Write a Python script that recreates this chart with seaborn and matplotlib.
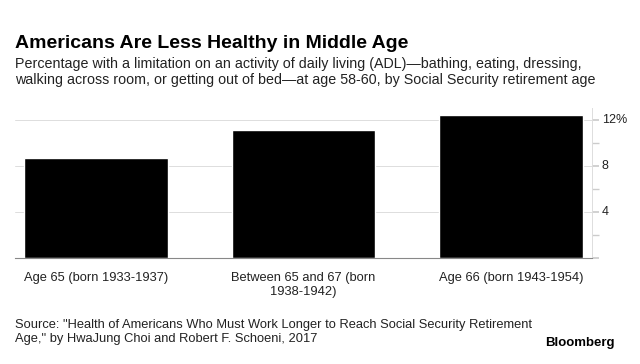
import matplotlib
matplotlib.use("Agg")
import matplotlib.pyplot as plt
import pandas as pd
import seaborn as sns

# Chart data
categories = ["Age 65 (born 1933-1937)",
              "Between 65 and 67 (born\n1938-1942)",
              "Age 66 (born 1943-1954)"]
adl_pct = [8.7, 11.1, 12.4]
y_ticks = [0, 4, 8, 12]
y_tick_labels = ["", "4", "8", "12%"]

sns.set_theme(style="white")
plt.rcParams["font.family"] = ["Liberation Sans", "DejaVu Sans"]

df = pd.DataFrame({"cat": categories, "pct": adl_pct})

fig = plt.figure(figsize=(6.4, 3.64), dpi=100)
ax = fig.add_axes([15 / 640, 1 - 258 / 364, (592 - 15) / 640, (258 - 108) / 364])

sns.barplot(data=df, x="cat", y="pct", color="black", width=0.69,
            saturation=1, ax=ax)

ax.set_xlim(-0.39, 2.39)
ax.set_ylim(0, 13.0)
ax.yaxis.tick_right()
ax.set_yticks(y_ticks)
ax.set_yticklabels(y_tick_labels)
ax.set_yticks([2, 6, 10], minor=True)
ax.tick_params(axis="y", which="both", length=5, color="#cccccc",
               labelsize=9, pad=2, labelcolor="#222222")
ax.tick_params(axis="x", length=4, color="#555555", labelsize=9.3,
               pad=6, labelcolor="#222222")
ax.grid(axis="y", which="major", color="#dddddd", linewidth=0.7)
ax.set_axisbelow(True)
ax.set_xlabel("")
ax.set_ylabel("")
for s in ["top", "left"]:
    ax.spines[s].set_visible(False)
ax.spines["right"].set_color("#dddddd")
ax.spines["right"].set_linewidth(0.7)
ax.spines["bottom"].set_color("#888888")
ax.spines["bottom"].set_linewidth(0.8)
for lbl in ax.get_yticklabels():
    lbl.set_verticalalignment("center")

fig.text(15 / 640, 1 - 43 / 364, "Americans Are Less Healthy in Middle Age",
         fontsize=14, fontweight="bold", va="center", color="black")
fig.text(15 / 640, 1 - 72 / 364,
         "Percentage with a limitation on an activity of daily living (ADL)\u2014bathing, eating, dressing,\n"
         "walking across room, or getting out of bed\u2014at age 58-60, by Social Security retirement age",
         fontsize=10.3, va="center", color="#222222", linespacing=1.15)
fig.text(15 / 640, 1 - 332 / 364,
         "Source: \"Health of Americans Who Must Work Longer to Reach Social Security Retirement\n"
         "Age,\" by HwaJung Choi and Robert F. Schoeni, 2017",
         fontsize=9.3, va="center", color="#222222", linespacing=1.25)
fig.text(615 / 640, 1 - 343 / 364, "Bloomberg", fontsize=9.5,
         fontweight="bold", ha="right", va="center", color="black")

fig.savefig("out.png", dpi=100, facecolor="white")
